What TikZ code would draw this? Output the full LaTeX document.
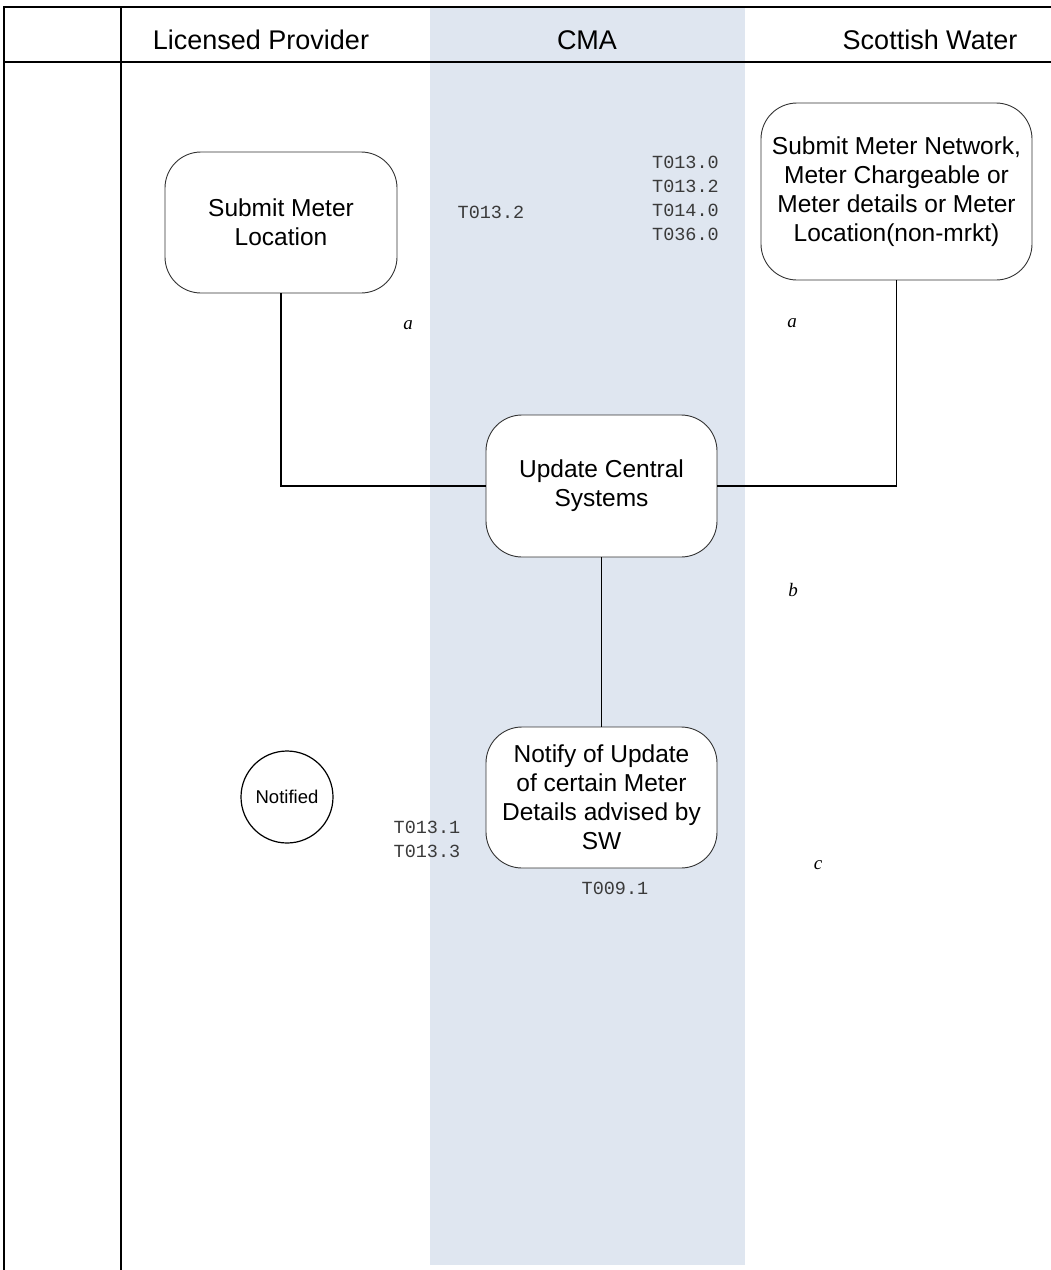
\documentclass[tikz,border=0pt]{standalone}
\usepackage{fontspec}
\setmainfont{Liberation Sans}
\newfontfamily\codefont{Liberation Mono}
\newfontfamily\letterfont{Liberation Serif}
\definecolor{bandcol}{HTML}{DFE6F0}
\definecolor{edgecol}{HTML}{333333}
\definecolor{codecol}{HTML}{3A3A3A}
\begin{document}
\begin{tikzpicture}[x=1pt,y=-1pt,
  box/.style={draw=edgecol, line width=0.9pt, fill=white, rounded corners=36pt,
    align=center, inner sep=0pt, font=\fontsize{24.5}{29}\selectfont},
  endcircle/.style={draw=black, line width=1.2pt, fill=white, circle, minimum size=92pt,
    inner sep=0pt, font=\fontsize{18.5}{20}\selectfont},
  lanelabel/.style={inner sep=0pt, font=\fontsize{27}{30}\selectfont},
  code/.style={inner sep=0pt, text=codecol, font=\codefont\fontsize{18.5}{24}\selectfont},
  lettr/.style={inner sep=0pt, font=\letterfont\itshape\fontsize{19}{20}\selectfont},
  conn/.style={draw=black, line width=1.1pt},
  frame/.style={draw=black, line width=2.2pt},
  thin/.style={draw=black, line width=1.4pt}]
\useasboundingbox (0,0) rectangle (1051,1270);
% CMA band
\fill[bandcol] (430,8) rectangle (745,1265);
% frame
\draw[frame] (4,1270) -- (4,7) -- (1051,7);
\draw[thin] (121,7) -- (121,1270);
\draw[thin] (4,62) -- (1051,62);
% lane headers
\node[lanelabel] (hlp) at (261,40) {Licensed Provider};
\node[lanelabel] (hcma) at (587,40) {CMA};
\node[lanelabel] (hsw) at (930,40) {Scottish Water};
% process boxes
\node[box, minimum width=232pt, minimum height=141pt] (lp) at (281,222.5) {Submit Meter\\Location};
\node[box, minimum width=271pt, minimum height=177pt] (sw) at (896.5,191.5) {Submit Meter Network,\\Meter Chargeable or\\Meter details or Meter\\Location(non-mrkt)};
\node[box, minimum width=231pt, minimum height=142pt] (upd) at (601.5,486) {Update Central\\Systems};
\node[box, minimum width=231pt, minimum height=141pt] (ntf) at (601.5,797.5) {Notify of Update\\of certain Meter\\Details advised by\\SW};
\node[endcircle] (notified) at (287,797) {Notified};
% connectors
\draw[conn] (lp.south) |- (upd.west);
\draw[conn] (sw.south) |- (upd.east);
\draw[conn] (upd.south) -- (ntf.north);
% transaction codes
\node[code] (c1) at (491,212) {T013.2};
\node[code, align=right, anchor=east] (c2) at (719,198) {T013.0\\T013.2\\T014.0\\T036.0};
\node[code, align=left] (c3) at (427,839) {T013.1\\T013.3};
\node[code] (c4) at (615,888) {T009.1};
% letters
\node[lettr] (la1) at (408,325) {a};
\node[lettr] (la2) at (792,323) {a};
\node[lettr] (lb) at (793,590) {b};
\node[lettr] (lc) at (818,865) {c};
\end{tikzpicture}
\end{document}
